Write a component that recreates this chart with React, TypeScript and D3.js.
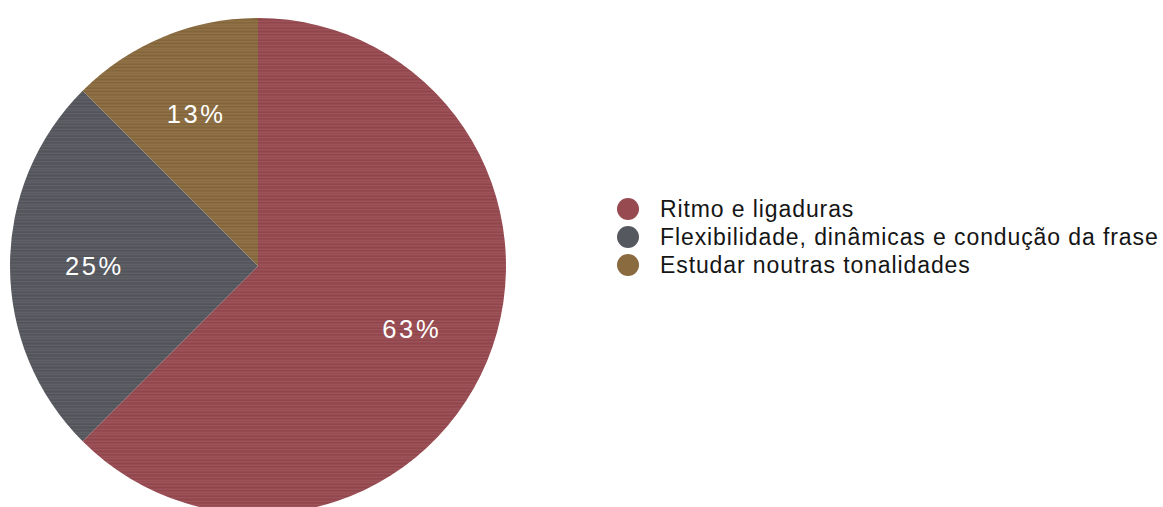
import React from "react";
import * as d3 from "d3";

const categories = ["Ritmo e ligaduras", "Flexibilidade, dinâmicas e condução da frase", "Estudar noutras tonalidades"];
const values = [5, 2, 1];
const labels = ["63%", "25%", "13%"];
const colors = ["#974a50", "#56585f", "#8a6a3f"];

const W = 1163;
const H = 507;
const cx = 258;
const cy = 266;
const R = 248;

export default function App() {
  const pie = d3.pie<number>().sort(null).value((d) => d)(values);
  const arc = d3.arc<d3.PieArcDatum<number>>().innerRadius(0).outerRadius(R);
  const labelArc = d3.arc<d3.PieArcDatum<number>>().innerRadius(165).outerRadius(165);
  const legendY = d3.scalePoint<number>().domain(d3.range(categories.length)).range([209, 265]);
  const stripes = [0, 2, 3, 5, 7, 8, 10];
  return (
    <svg width={W} height={H} style={{ position: "absolute", left: 0, top: 0 }}>
      <defs>
        <pattern id="tex" width={400} height={12} patternUnits="userSpaceOnUse">
          {stripes.map((s, i) => (
            <rect key={i} x={0} y={s} width={400} height={1} fill={i % 2 ? "#000" : "#fff"} opacity={0.05} />
          ))}
        </pattern>
      </defs>
      <g transform={`translate(${cx},${cy})`}>
        {pie.map((p, i) => (
          <g key={i}>
            <path d={arc(p) ?? ""} fill={colors[i]} />
            <path d={arc(p) ?? ""} fill="url(#tex)" />
          </g>
        ))}
        {pie.map((p, i) => {
          const [x, y] = labelArc.centroid(p);
          return (
            <text key={i} x={x} y={y} dx={1.3} dy="0.36em" textAnchor="middle" fill="#fff"
              fontFamily="Liberation Sans, Arial, sans-serif" fontSize={25.5} letterSpacing={2.6}>
              {labels[i]}
            </text>
          );
        })}
      </g>
      <g>
        {categories.map((c, i) => (
          <g key={i} transform={`translate(628,${legendY(i)})`}>
            <circle r={11} fill={colors[i]} />
            <text x={32} dy="0.36em" fill="#151515" fontFamily="Liberation Sans, Arial, sans-serif" fontSize={23} letterSpacing={0.9}>
              {c}
            </text>
          </g>
        ))}
      </g>
    </svg>
  );
}
